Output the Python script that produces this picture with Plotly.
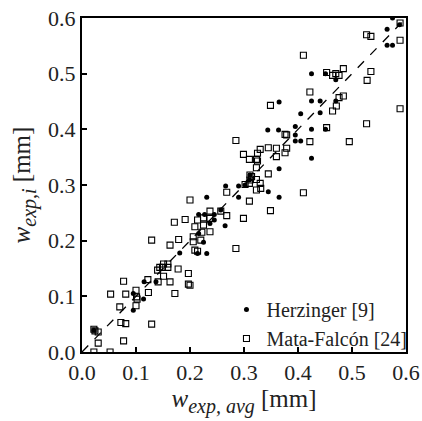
import plotly.graph_objects as go

# Herzinger [9] (filled dots)
herz_x = [0.575, 0.565, 0.565, 0.575, 0.588, 0.425, 0.451, 0.470, 0.425, 0.441, 0.470, 0.441,
          0.405, 0.425, 0.451, 0.365, 0.395, 0.344, 0.364, 0.395, 0.405, 0.395, 0.425, 0.365,
          0.311, 0.310, 0.302, 0.290, 0.266, 0.345, 0.290, 0.231, 0.365, 0.257, 0.216, 0.227,
          0.245, 0.245, 0.237, 0.265, 0.216, 0.225, 0.214, 0.231, 0.181, 0.137, 0.115, 0.095,
          0.114, 0.095, 0.022]
herz_y = [0.600, 0.580, 0.551, 0.551, 0.588, 0.500, 0.500, 0.489, 0.451, 0.451, 0.451, 0.430,
          0.428, 0.400, 0.400, 0.449, 0.405, 0.399, 0.399, 0.390, 0.379, 0.379, 0.348, 0.329,
          0.318, 0.309, 0.300, 0.298, 0.298, 0.288, 0.278, 0.278, 0.278, 0.255, 0.247, 0.247,
          0.247, 0.237, 0.231, 0.227, 0.213, 0.197, 0.177, 0.177, 0.178, 0.126, 0.126, 0.105,
          0.095, 0.075, 0.039]

# Mata-Falcón [24] (open squares)
mata_x = [0.410, 0.589, 0.527, 0.535, 0.589, 0.453, 0.464, 0.470, 0.476, 0.484, 0.535, 0.528,
          0.422, 0.349, 0.476, 0.484, 0.471, 0.464, 0.589, 0.527, 0.453, 0.422, 0.495, 0.410,
          0.376, 0.379, 0.285, 0.330, 0.345, 0.360, 0.379, 0.376, 0.325, 0.299, 0.310, 0.323,
          0.325, 0.360, 0.323, 0.345, 0.311, 0.314, 0.302, 0.311, 0.310, 0.323, 0.330, 0.323,
          0.331, 0.268, 0.310, 0.200, 0.349, 0.257, 0.237, 0.268, 0.299, 0.214, 0.225, 0.237,
          0.209, 0.225, 0.237, 0.222, 0.206, 0.220, 0.206, 0.209, 0.214, 0.285, 0.200, 0.129,
          0.163, 0.171, 0.191, 0.179, 0.144, 0.151, 0.159, 0.149, 0.159, 0.140, 0.178, 0.197,
          0.141, 0.122, 0.151, 0.163, 0.197, 0.077, 0.100, 0.123, 0.172, 0.053, 0.081, 0.101,
          0.102, 0.070, 0.100, 0.072, 0.081, 0.129, 0.022, 0.024, 0.030, 0.077, 0.030, 0.022,
          0.052]
mata_y = [0.533, 0.591, 0.570, 0.567, 0.560, 0.502, 0.497, 0.500, 0.497, 0.509, 0.504, 0.488,
          0.467, 0.443, 0.457, 0.460, 0.442, 0.433, 0.437, 0.410, 0.403, 0.378, 0.378, 0.286,
          0.391, 0.390, 0.380, 0.364, 0.367, 0.366, 0.366, 0.358, 0.357, 0.355, 0.346, 0.346,
          0.343, 0.351, 0.331, 0.320, 0.318, 0.315, 0.301, 0.309, 0.303, 0.310, 0.303, 0.291,
          0.294, 0.287, 0.271, 0.273, 0.254, 0.253, 0.253, 0.245, 0.240, 0.237, 0.241, 0.240,
          0.225, 0.228, 0.216, 0.215, 0.207, 0.201, 0.198, 0.183, 0.181, 0.186, 0.120, 0.201,
          0.192, 0.233, 0.238, 0.202, 0.152, 0.158, 0.158, 0.152, 0.152, 0.147, 0.149, 0.141,
          0.126, 0.130, 0.136, 0.126, 0.122, 0.127, 0.111, 0.107, 0.105, 0.104, 0.104, 0.099,
          0.095, 0.081, 0.083, 0.053, 0.051, 0.050, 0.041, 0.038, 0.036, 0.020, 0.016, 0.000,
          0.000]

# 1:1 reference line
line_x = [0.0, 0.6]
line_y = [0.0, 0.6]

tick_vals = [0.0, 0.1, 0.2, 0.3, 0.4, 0.5, 0.6]
tick_text = ["0.0", "0.1", "0.2", "0.3", "0.4", "0.5", "0.6"]

FONT = "Liberation Serif"

fig = go.Figure()
fig.add_trace(go.Scatter(x=line_x, y=line_y, mode="lines",
                         line=dict(color="black", width=1.3, dash="dash"),
                         showlegend=False, hoverinfo="skip"))
fig.add_trace(go.Scatter(x=herz_x, y=herz_y, mode="markers", name="Herzinger [9]",
                         marker=dict(symbol="circle", size=5, color="black")))
fig.add_trace(go.Scatter(x=mata_x, y=mata_y, mode="markers", name="Mata-Falcón [24]",
                         marker=dict(symbol="square-open", size=6, color="black",
                                     line=dict(width=1.1, color="black"))))

axis_common = dict(range=[0, 0.6], tickvals=tick_vals, ticktext=tick_text,
                   showgrid=False, zeroline=False, showline=True, linewidth=2,
                   linecolor="black", mirror=True, ticks="inside", ticklen=5,
                   tickwidth=1.5, tickcolor="black", automargin=False,
                   tickfont=dict(family=FONT, size=22, color="#222"))

SUB = "<sub><span style='font-size:20px'><i>{}</i></span></sub>"

fig.update_layout(
    template="none",
    width=422, height=421,
    margin=dict(l=82, r=16, t=18, b=69, autoexpand=False),
    paper_bgcolor="white", plot_bgcolor="white",
    font=dict(family=FONT, color="#222"),
    xaxis=dict(**axis_common,
               title=dict(text="<i>w</i>" + SUB.format("exp, avg") + " [mm]",
                          font=dict(family=FONT, size=25, color="#222"), standoff=2)),
    yaxis=dict(**axis_common,
               title=dict(text="<i>w</i>" + SUB.format("exp,i") + " [mm]",
                          font=dict(family=FONT, size=25, color="#222"), standoff=10)),
    legend=dict(x=1.02, xanchor="right", y=-0.018, yanchor="bottom",
                bgcolor="rgba(0,0,0,0)", font=dict(family=FONT, size=20, color="#222"),
                itemwidth=30, tracegroupgap=0),
)

fig.write_html("out.html")
